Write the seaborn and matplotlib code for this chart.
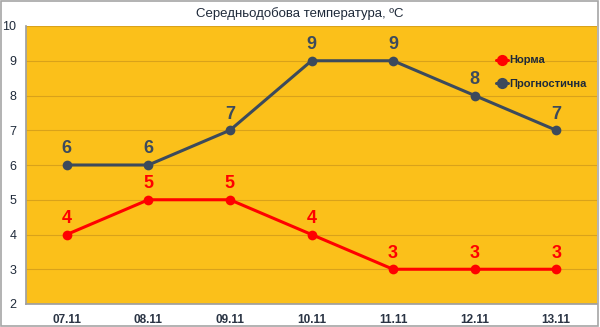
import matplotlib
matplotlib.use("Agg")
import matplotlib.pyplot as plt
import seaborn as sns
import pandas as pd
from matplotlib.patches import Rectangle

dates = ["07.11", "08.11", "09.11", "10.11", "11.11", "12.11", "13.11"]
norma = [4, 5, 5, 4, 3, 3, 3]
prognoz = [6, 6, 7, 9, 9, 8, 7]
series_names = ["Норма", "Прогностична"]
title = "Середньодобова температура, ºC"

sns.set_theme(style="white")
plt.rcParams['font.family'] = ['Liberation Sans', 'DejaVu Sans']

df = pd.DataFrame({
    "pos": list(range(len(dates))) * 2,
    "val": norma + prognoz,
    "series": [series_names[0]] * len(dates) + [series_names[1]] * len(dates),
})

colors = {series_names[0]: "#FF0000", series_names[1]: "#3C4A5C"}

fig = plt.figure(figsize=(6, 3.27), dpi=100)
fig.patch.set_facecolor("white")
fig.add_artist(Rectangle((0.002, 0.003), 0.995, 0.993, transform=fig.transFigure,
                         fill=False, edgecolor="#A6A6A6", linewidth=1.2))
ax = fig.add_axes([26/600, 1 - 304/327, 571/600, 278/327])
ax.set_facecolor("#FBC01A")

sns.lineplot(data=df, x="pos", y="val", hue="series", palette=colors, ax=ax,
             marker="o", markersize=7, markeredgewidth=0, linewidth=2.2, legend=True)

for i, v in enumerate(norma):
    ax.text(i, v + 0.22, str(v), ha="center", va="bottom", fontsize=13,
            fontweight="bold", color="#FF0000")
for i, v in enumerate(prognoz):
    ax.text(i, v + 0.22, str(v), ha="center", va="bottom", fontsize=13,
            fontweight="bold", color="#3C4A5C")

ax.set_xlim(-0.5, len(dates) - 0.5)
ax.set_ylim(2, 10)
ax.set_yticks(range(2, 11))
ax.set_yticklabels([str(t) for t in range(2, 11)], fontsize=9, color="#1F2A3A")
ax.set_xticks(range(len(dates)))
ax.set_xticklabels(dates, fontsize=8.5, fontweight="bold", color="#2A3444")
ax.set_xlabel("")
ax.set_ylabel("")
ax.grid(axis="y", color="#D9A21A", linewidth=0.8)
ax.set_axisbelow(True)
for s in ["top", "right"]:
    ax.spines[s].set_visible(False)
ax.spines["left"].set_color("#A0A0A0")
ax.spines["bottom"].set_color("#A0A0A0")
ax.tick_params(axis="x", which="major", length=0, pad=7)
ax.set_xticks([i - 0.5 for i in range(len(dates) + 1)], minor=True)
ax.tick_params(axis="x", which="minor", length=4, color="#A0A0A0", direction="out")
ax.tick_params(axis="y", length=4, color="#A0A0A0", direction="out", pad=3)

leg = ax.legend(loc="upper left", bbox_to_anchor=(0.805, 0.93), frameon=False,
                fontsize=8, handlelength=1.1, handletextpad=0.1, labelspacing=1.2,
                markerscale=1.15)
for t in leg.get_texts():
    t.set_fontweight("bold")
    t.set_color("#1F2A3A")

fig.text(0.5, 1 - 14/327, title, ha="center", va="center", fontsize=9.5, color="#1F2A3A")

fig.savefig("out.png", dpi=100, facecolor=fig.get_facecolor())
